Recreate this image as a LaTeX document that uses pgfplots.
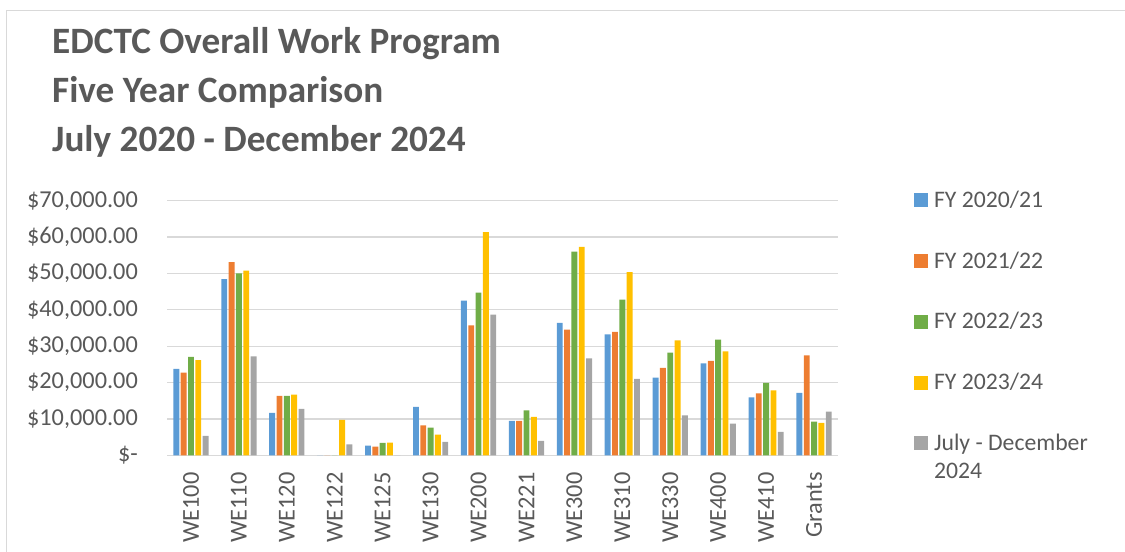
\documentclass[border=0pt]{standalone}
\usepackage{pgfplots}
\pgfplotsset{compat=1.18}
\usepackage{pgfplotstable}
\usepackage{fontspec}
\setmainfont{Carlito}
\definecolor{c1}{HTML}{5B9BD5}
\definecolor{c2}{HTML}{ED7D31}
\definecolor{c3}{HTML}{70AD47}
\definecolor{c4}{HTML}{FFC000}
\definecolor{c5}{HTML}{A5A5A5}
\definecolor{tg}{HTML}{595959}
\definecolor{gg}{HTML}{D9D9D9}

\pgfplotstableread{
x s1 s2 s3 s4 s5
0 23730 22720 27030 26200 5310
1 48470 53140 50030 50760 27210
2 11640 16310 16310 16680 12740
3 0 0 0 9710 3020
4 2660 2380 3390 3480 0
5 13290 8250 7600 5680 3660
6 42510 35730 44710 61390 38670
7 9440 9440 12370 10540 3940
8 36380 34540 55980 57270 26660
9 33260 33900 42790 50390 20980
10 21350 24010 28220 31610 10990
11 25290 25930 31790 28590 8700
12 15940 17040 19880 17870 6410
13 17130 27490 9250 8890 12000
}\data

\pgfplotsset{sq/.style={fill=#1, draw=none,
  legend image code/.code={\fill[#1] (0bp,0bp) rectangle (14bp,14bp);}}}
\newcommand{\lstrut}{\rule[-5bp]{0pt}{21bp}}

\begin{document}
\begin{tikzpicture}[x=1bp,y=1bp]
\useasboundingbox (0,0) rectangle (1125,552);
\draw[gg, line width=1.2bp] (6.7,0) -- (6.7,541.3) -- (1125,541.3);
\begin{scope}[every node/.style={anchor=base west, text=tg, inner sep=0pt, font=\fontsize{37.2bp}{44bp}\selectfont\bfseries}]
\node at (52,498.5) {EDCTC Overall Work Program};
\node at (52,449.5) {Five Year Comparison};
\node at (52,400.7) {July 2020 - December 2024};
\end{scope}
\begin{axis}[
  at={(167bp,96.7bp)}, anchor=south west,
  scale only axis, width=671bp, height=254.6bp,
  xmin=-0.5, xmax=13.5, ymin=0, ymax=70000,
  scaled y ticks=false,
  ybar=1.43bp, bar width=5.9bp,
  axis line style={draw=none},
  major tick length=0pt,
  ymajorgrids, grid style={gg, line width=1.3bp},
  xtick={0,...,13},
  xticklabels={WE100,WE110,WE120,WE122,WE125,WE130,WE200,WE221,WE300,WE310,WE330,WE400,WE410,Grants},
  ytick={0,10000,...,70000},
  yticklabels={{\$-\hspace{10bp}},{\$10,000.00},{\$20,000.00},{\$30,000.00},{\$40,000.00},{\$50,000.00},{\$60,000.00},{\$70,000.00}},
  tick label style={text=tg, font=\fontsize{24.3bp}{28bp}\selectfont},
  yticklabel style={anchor=east, inner sep=0pt, xshift=-29bp},
  xticklabel style={rotate=90, anchor=east, inner sep=0pt},
  xticklabel shift=17bp,
  legend style={at={(1.11326,1.0381)}, anchor=north west, draw=none, fill=none,
    inner sep=0pt, outer sep=0pt, row sep=42.8bp, column sep=6bp,
    font=\fontsize{23.7bp}{28bp}\selectfont, text=tg, nodes={inner sep=0pt},
    cells={anchor=base west}},
]
\addplot[sq=c1] table[x=x,y=s1]{\data};
\addplot[sq=c2] table[x=x,y=s2]{\data};
\addplot[sq=c3] table[x=x,y=s3]{\data};
\addplot[sq=c4] table[x=x,y=s4]{\data};
\addplot[sq=c5] table[x=x,y=s5]{\data};
\legend{\lstrut FY 2020/21,\lstrut FY 2021/22,\lstrut FY 2022/23,\lstrut FY 2023/24,{\vtop{\baselineskip=27.7bp\hbox{\lstrut July - December}\hbox{2024}}}}
\end{axis}
\end{tikzpicture}
\end{document}
